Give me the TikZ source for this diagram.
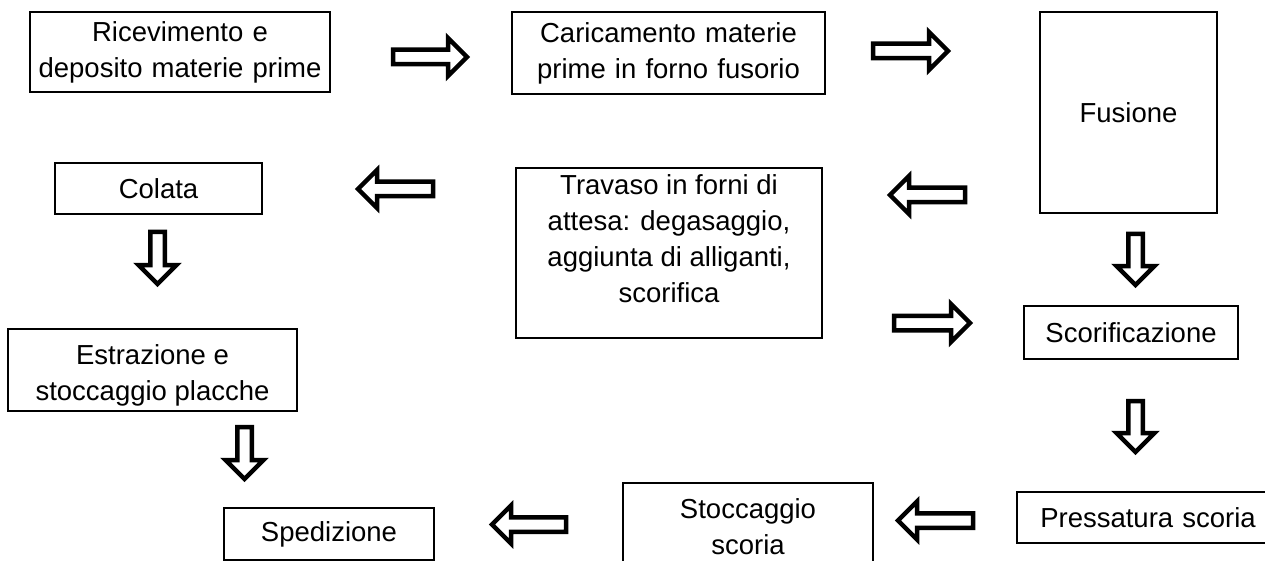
\documentclass[tikz,border=0pt]{standalone}
\usepackage{fontspec}
\setmainfont{Liberation Sans}
\tikzset{
  box/.style={draw, line width=1.8pt, inner sep=0pt, align=center,
    font=\fontsize{27.5}{36}\selectfont},
  barrow/.style={draw, line width=4.5pt, miter limit=10, fill=white},
  pics/blockarrow/.style={code={
    \draw[barrow] (0,0) -- (-19,19) -- (-19,7.25) -- (-#1,7.25)
      -- (-#1,-7.25) -- (-19,-7.25) -- (-19,-19) -- cycle;
  }}
}
\begin{document}
\begin{tikzpicture}[x=1pt,y=-1pt]
\useasboundingbox (0,0) rectangle (1265,561);
\clip (0,0) rectangle (1265,561);
% boxes
\node[box, minimum width=300, minimum height=80, text width=300] (ric) at (180,52)
  {Ricevimento e\\deposito materie prime};
\node[box, minimum width=313, minimum height=82, text width=313] (car) at (668.5,53)
  {Caricamento materie\\prime in forno fusorio};
\node[box, minimum width=177, minimum height=201, text width=177] (fus) at (1128.5,112.5)
  {Fusione};
\node[box, minimum width=207, minimum height=51, text width=207] (col) at (158.5,188.5)
  {Colata};
\node[box] (tra) at (669,253)
  {\parbox[c][170pt][t]{306pt}{\centering\vspace*{7pt}Travaso in forni di\\attesa: degasaggio,\\aggiunta di alliganti,\\scorifica}};
\node[box, minimum width=214, minimum height=53, text width=214] (sco) at (1131,332.5)
  {Scorificazione};
\node[box] (est) at (152.5,370)
  {\parbox[c][82pt][t]{289pt}{\centering\vspace*{16pt}Estrazione e\\stoccaggio placche}};
\node[box, minimum width=210, minimum height=52, text width=210] (spe) at (329,534)
  {Spedizione};
\node[box, minimum width=250, minimum height=88, text width=250] (sto) at (748,527)
  {Stoccaggio\\scoria};
\node[box, minimum width=262, minimum height=51, text width=262] (pre) at (1148,517.5)
  {Pressatura scoria};
% block arrows
\pic (a1) at (467,57) {blockarrow=74};
\pic (a2) at (948,51) {blockarrow=75};
\pic[rotate=180] (a3) at (358,189) {blockarrow=75};
\pic[rotate=180] (a4) at (890,195) {blockarrow=75};
\pic[rotate=-90] (a5) at (157.5,284) {blockarrow=52};
\pic[rotate=-90] (a6) at (1135.5,285) {blockarrow=51};
\pic (a7) at (970,323) {blockarrow=76};
\pic[rotate=-90] (a8) at (1135.5,452) {blockarrow=51};
\pic[rotate=-90] (a9) at (244.5,479) {blockarrow=52};
\pic[rotate=180] (a10) at (492,524.5) {blockarrow=74};
\pic[rotate=180] (a11) at (898,520.5) {blockarrow=75};
\end{tikzpicture}
\end{document}
